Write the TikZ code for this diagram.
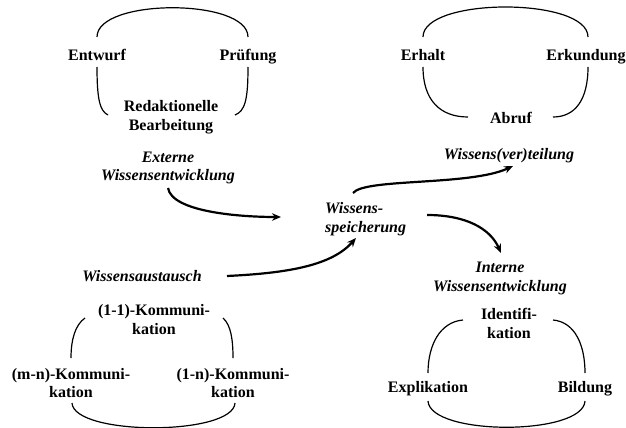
\documentclass[tikz,border=0pt]{standalone}
\usepackage{fontspec}
\setmainfont{Liberation Serif}
\usetikzlibrary{arrows.meta}
\begin{document}
\begin{tikzpicture}[x=1pt,y=-1pt,
  lbl/.style={font=\bfseries\fontsize{16}{18.5}\selectfont, inner sep=0pt, align=center, anchor=base},
  ilbl/.style={lbl, font=\bfseries\itshape\fontsize{16}{18.5}\selectfont},
  arcline/.style={line width=1.2pt},
  flow/.style={line width=2.2pt, -{Stealth[length=9pt,width=7.5pt]}}]
\useasboundingbox (0,0) rectangle (626,428);

% ---------- top left cluster ----------
\node[lbl] (entwurf) at (97,60.5) {Entwurf};
\node[lbl] (pruefung) at (248,60.5) {Prüfung};
\node[lbl] (redakt) at (171,130) {Redaktionelle\\Bearbeitung};
\node[ilbl] (extern) at (168,180.8) {Externe\\Wissensentwicklung};
\coordinate (tl1) at (97,37);  \coordinate (tl2) at (248,37);
\coordinate (tl3) at (97,67);  \coordinate (tl4) at (108,115);
\coordinate (tl5) at (248,67); \coordinate (tl6) at (235,115);
\draw[arcline] (tl1) .. controls (97,-2) and (248,-2) .. (tl2);
\draw[arcline] (tl3) .. controls (97,100) and (100,111) .. (tl4);
\draw[arcline] (tl5) .. controls (248,100) and (245,111) .. (tl6);

% ---------- top right cluster ----------
\node[lbl] (erhalt) at (423,60.5) {Erhalt};
\node[lbl] (erkund) at (586,60.5) {Erkundung};
\node[lbl] (abruf) at (511,123) {Abruf};
\node[ilbl] (verteil) at (509,159.5) {Wissens(ver)teilung};
\coordinate (tr1) at (423,37);  \coordinate (tr2) at (588,37);
\coordinate (tr3) at (423,67);  \coordinate (tr4) at (468,117);
\coordinate (tr5) at (588,67);  \coordinate (tr6) at (553,117);
\draw[arcline] (tr1) .. controls (423,-3) and (588,-3) .. (tr2);
\draw[arcline] (tr3) .. controls (423,100) and (440,117) .. (tr4);
\draw[arcline] (tr5) .. controls (588,100) and (575,117) .. (tr6);

% ---------- centre ----------
\node[ilbl, align=left, anchor=base west] (speich) at (325,232) {Wissens-\\speicherung};
\node[ilbl] (austausch) at (142,281.7) {Wissensaustausch};

% ---------- bottom left cluster ----------
\node[lbl] (k11) at (154,334) {(1-1)-Kommuni-\\kation};
\node[lbl] (kmn) at (71,397.5) {(m-n)-Kommuni-\\kation};
\node[lbl] (k1n) at (233,397.5) {(1-n)-Kommuni-\\kation};
\coordinate (bl1) at (85,318);  \coordinate (bl2) at (71,358);
\coordinate (bl3) at (223,318); \coordinate (bl4) at (233,358);
\coordinate (bl5) at (72,403);  \coordinate (bl6) at (235,403);
\draw[arcline] (bl1) .. controls (75,325) and (71,340) .. (bl2);
\draw[arcline] (bl3) .. controls (231,325) and (233,340) .. (bl4);
\draw[arcline] (bl5) .. controls (74,436) and (233,436) .. (bl6);

% ---------- bottom right cluster ----------
\node[ilbl] (intern) at (500,291.2) {Interne\\Wissensentwicklung};
\node[lbl] (ident) at (509,338) {Identifi-\\kation};
\node[lbl] (explik) at (428,392.5) {Explikation};
\node[lbl] (bildung) at (585,392.5) {Bildung};
\coordinate (br1) at (463,320); \coordinate (br2) at (428,373);
\coordinate (br3) at (553,320); \coordinate (br4) at (585,373);
\coordinate (br5) at (428,401); \coordinate (br6) at (585,401);
\draw[arcline] (br1) .. controls (440,322) and (428,345) .. (br2);
\draw[arcline] (br3) .. controls (575,322) and (585,345) .. (br4);
\draw[arcline] (br5) .. controls (430,436) and (583,436) .. (br6);

% ---------- flows ----------
\coordinate (f1s) at (168,188); \coordinate (f1e) at (281,217);
\coordinate (f2s) at (353,193); \coordinate (f2e) at (513,166);
\coordinate (f3s) at (227,276); \coordinate (f3e) at (356,238);
\coordinate (f4s) at (427,215); \coordinate (f4e) at (501,253);
\draw[flow] (f1s) .. controls (172,212) and (240,217) .. (f1e);
\draw[flow] (f2s) .. controls (365,178) and (470,186) .. (f2e);
\draw[flow] (f3s) .. controls (290,273) and (332,265) .. (f3e);
\draw[flow] (f4s) .. controls (465,215) and (490,228) .. (f4e);
\end{tikzpicture}
\end{document}
